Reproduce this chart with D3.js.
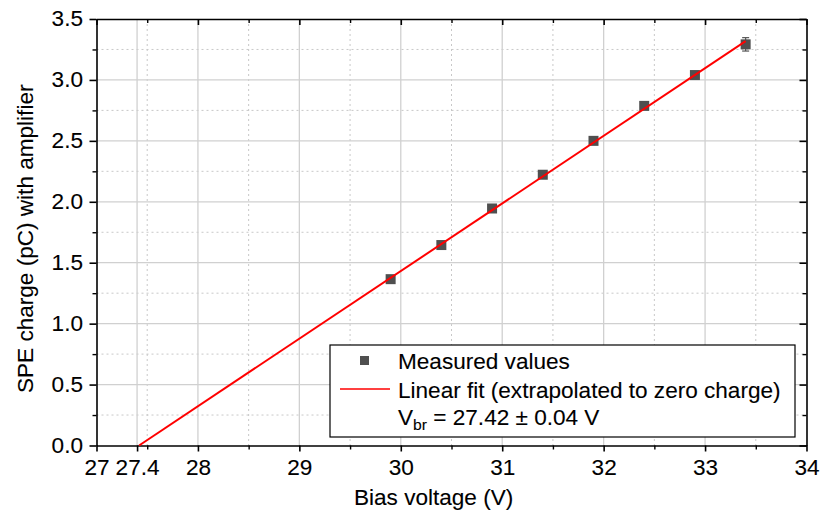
<!DOCTYPE html>
<html><head><meta charset="utf-8">
<script src="https://cdn.jsdelivr.net/npm/d3@7"></script>
<style>body{margin:0;background:#fff}svg{display:block;font-family:"Liberation Sans",Arial,sans-serif}svg text{stroke:#000;stroke-width:0.1px}</style>
</head><body><svg id="c" width="821" height="511"></svg>
<script>
const biasV = [29.9, 30.4, 30.9, 31.4, 31.9, 32.4, 32.9, 33.4];
const charge = [1.365, 1.645, 1.945, 2.222, 2.500, 2.787, 3.040, 3.292];
const chargeErr = [0.01, 0.01, 0.01, 0.01, 0.01, 0.01, 0.015, 0.055];
const fitX = [27.42, 33.4];
const fitY = [0, 3.318];
const xMajor = [27, 27.4, 28, 29, 30, 31, 32, 33, 34];
const xMinor = [27.5, 28.5, 29.5, 30.5, 31.5, 32.5, 33.5];
const yMajor = [0, 0.5, 1.0, 1.5, 2.0, 2.5, 3.0, 3.5];
const yMinor = [0.25, 0.75, 1.25, 1.75, 2.25, 2.75, 3.25];
const legendLabels = ["Measured values", "Linear fit (extrapolated to zero charge)"];

const FS = 21.5, SX = 1.05;
const L = 96.5, R = 806.5, T = 19, B = 445.5;
const svg = d3.select("#c");
const x = d3.scaleLinear().domain([27, 34]).range([L, R]);
const y = d3.scaleLinear().domain([0, 3.5]).range([B, T]);

// grid
const g = svg.append("g");
g.selectAll(".gxm").data(xMinor).enter().append("line")
  .attr("x1", d => x(d)).attr("x2", d => x(d)).attr("y1", T).attr("y2", B)
  .attr("stroke", "#c8c8c8").attr("stroke-dasharray", "2,3");
g.selectAll(".gym").data(yMinor).enter().append("line")
  .attr("y1", d => y(d)).attr("y2", d => y(d)).attr("x1", L).attr("x2", R)
  .attr("stroke", "#c8c8c8").attr("stroke-dasharray", "2,3");
g.selectAll(".gx").data(xMajor.filter(d => d > 27 && d < 34)).enter().append("line")
  .attr("x1", d => x(d)).attr("x2", d => x(d)).attr("y1", T).attr("y2", B)
  .attr("stroke", "#d0d0d0").attr("stroke-width", 1.3);
g.selectAll(".gy").data(yMajor.filter(d => d > 0 && d < 3.5)).enter().append("line")
  .attr("y1", d => y(d)).attr("y2", d => y(d)).attr("x1", L).attr("x2", R)
  .attr("stroke", "#d0d0d0").attr("stroke-width", 1.3);

// axes
const fmtY = d3.format(".1f");
const fmtX = d => (d === 27.4 ? "27.4" : d3.format("d")(d));
function styleAxis(sel) {
  sel.selectAll("path").attr("stroke", "#000").attr("stroke-width", 1.6);
  sel.selectAll("line").attr("stroke", "#000").attr("stroke-width", 1.6);
  sel.selectAll("text").attr("font-size", FS).attr("fill", "#000").attr("font-family", "Liberation Sans, Arial, sans-serif");
}
function minor(s) { s.select("path").remove(); s.selectAll("line").attr("stroke", "#000").attr("stroke-width", 1.4); }
const xb = svg.append("g").attr("transform", `translate(0,${B})`)
  .call(d3.axisBottom(x).tickValues(xMajor).tickFormat(fmtX).tickSizeInner(6).tickSizeOuter(0).tickPadding(8));
styleAxis(xb);
xb.selectAll("text").attr("transform", `scale(${SX},1)`);
svg.append("g").attr("transform", `translate(0,${B})`)
  .call(d3.axisBottom(x).tickValues(xMinor).tickFormat("").tickSizeInner(4).tickSizeOuter(0)).call(minor);
const yl = svg.append("g").attr("transform", `translate(${L},0)`)
  .call(d3.axisLeft(y).tickValues(yMajor).tickFormat(fmtY).tickSizeInner(7).tickSizeOuter(0).tickPadding(6));
styleAxis(yl);
yl.selectAll("text").attr("x", 0).attr("transform", `translate(-13.5,0) scale(${SX},1)`);
svg.append("g").attr("transform", `translate(${L},0)`)
  .call(d3.axisLeft(y).tickValues(yMinor).tickFormat("").tickSizeInner(4).tickSizeOuter(0)).call(minor);
// top / right inward
const xt = svg.append("g").attr("transform", `translate(0,${T})`)
  .call(d3.axisBottom(x).tickValues(xMajor.filter(d => d !== 27.4)).tickFormat("").tickSizeInner(6).tickSizeOuter(0));
xt.selectAll("path").attr("stroke", "#000").attr("stroke-width", 1.6);
xt.selectAll("line").attr("stroke", "#000").attr("stroke-width", 1.6);
svg.append("g").attr("transform", `translate(0,${T})`)
  .call(d3.axisBottom(x).tickValues(xMinor).tickFormat("").tickSizeInner(4).tickSizeOuter(0)).call(minor);
const yr = svg.append("g").attr("transform", `translate(${R},0)`)
  .call(d3.axisLeft(y).tickValues(yMajor).tickFormat("").tickSizeInner(7).tickSizeOuter(0));
yr.selectAll("path").attr("stroke", "#000").attr("stroke-width", 1.6);
yr.selectAll("line").attr("stroke", "#000").attr("stroke-width", 1.6);
svg.append("g").attr("transform", `translate(${R},0)`)
  .call(d3.axisLeft(y).tickValues(yMinor).tickFormat("").tickSizeInner(4).tickSizeOuter(0)).call(minor);

// helper: stretched text
function stext(parent, px, py, str, rot) {
  return parent.append("text")
    .attr("transform", `translate(${px},${py})${rot ? " rotate(-90)" : ""} scale(${SX},1)`)
    .attr("font-size", FS).text(str);
}
// axis titles
stext(svg, 354, 505, "Bias voltage (V)");
stext(svg, 33, 393, "SPE charge (pC) with amplifier", true);

// error bars
const eb = svg.append("g").attr("stroke", "#555").attr("stroke-width", 1.2);
biasV.forEach((v, i) => {
  const yt = y(charge[i] + chargeErr[i]), yb = y(charge[i] - chargeErr[i]);
  eb.append("line").attr("x1", x(v)).attr("x2", x(v)).attr("y1", yt).attr("y2", yb);
  eb.append("line").attr("x1", x(v) - 3.5).attr("x2", x(v) + 3.5).attr("y1", yt).attr("y2", yt);
  eb.append("line").attr("x1", x(v) - 3.5).attr("x2", x(v) + 3.5).attr("y1", yb).attr("y2", yb);
});
// markers
const ms = 10;
svg.append("g").selectAll("rect").data(biasV).enter().append("rect")
  .attr("x", d => x(d) - ms / 2).attr("y", (d, i) => y(charge[i]) - ms / 2)
  .attr("width", ms).attr("height", ms).attr("fill", "#4f4f4f");
// fit line
svg.append("path").datum(fitX.map((v, i) => [v, fitY[i]]))
  .attr("d", d3.line().x(d => x(d[0])).y(d => y(d[1])))
  .attr("stroke", "#ff0000").attr("stroke-width", 2).attr("fill", "none");

// legend
const lg = svg.append("g");
lg.append("rect").attr("x", 330).attr("y", 345).attr("width", 465).attr("height", 92)
  .attr("fill", "#fff").attr("stroke", "#000").attr("stroke-width", 1.2);
lg.append("rect").attr("x", 360).attr("y", 356).attr("width", 9).attr("height", 9).attr("fill", "#4f4f4f");
lg.append("line").attr("x1", 340).attr("x2", 390).attr("y1", 389).attr("y2", 389).attr("stroke", "#ff0000").attr("stroke-width", 1.5);
stext(lg, 398, 369, legendLabels[0]);
stext(lg, 398, 398, legendLabels[1]);
const t3 = lg.append("text").attr("transform", `translate(398,425) scale(${SX},1)`).attr("font-size", FS);
t3.append("tspan").text("V");
t3.append("tspan").attr("font-size", 15).attr("dy", 5).text("br");
t3.append("tspan").attr("dy", -5).text(" = 27.42 ± 0.04 V");
</script></body></html>
